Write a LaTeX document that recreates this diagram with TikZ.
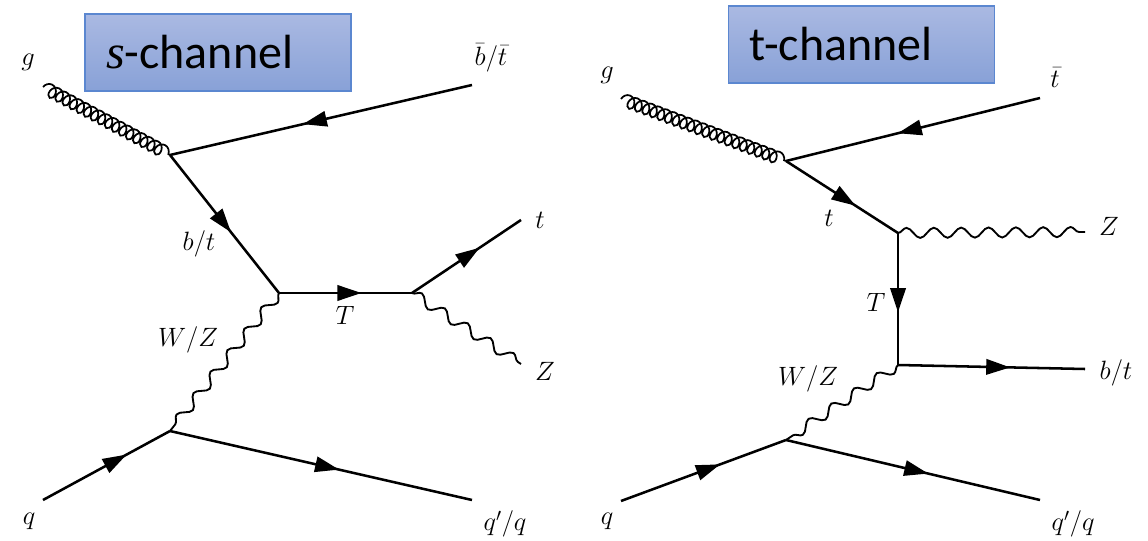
\documentclass[tikz,border=0pt]{standalone}
\usepackage{amsmath}
\usepackage{fontspec}
\setsansfont{Carlito}
\newfontfamily\channelsfont{Liberation Serif}
\usepackage{xcolor}
\usetikzlibrary{arrows.meta, decorations.markings, decorations.pathmorphing, positioning}
\definecolor{cBoxTop}{RGB}{170,185,226}
\definecolor{cBoxBottom}{RGB}{136,161,215}
\definecolor{cBoxLine}{RGB}{91,135,208}
\tikzset{
	fermion/.style={line width=1.9pt, postaction={decorate}, decoration={markings, mark=at position #1 with {\arrow{Triangle[length=18pt,width=11.5pt]}}}},
	fermion/.default=0.56,
	boson/.style={line width=1.4pt, decorate, decoration={snake, amplitude=3.8pt, segment length=20.5pt}},
	gluon/.style={line width=1.3pt, decorate, decoration={coil, aspect=0.8, amplitude=4.8pt, segment length=6pt}},
	channelbox/.style={draw=cBoxLine, line width=0.8pt, top color=cBoxTop, bottom color=cBoxBottom, minimum width=199.5pt, minimum height=57.75pt, inner xsep=15.5pt, inner ysep=0pt, text width=168pt, align=left, font=\sffamily\fontsize{36}{40}\selectfont},
	legname/.style={inner sep=0pt, font=\LARGE, scale=1.15}
}
\begin{document}
\begin{tikzpicture}[x=0.75pt, y=-0.75pt]
	\useasboundingbox (0,0) rectangle (1148,541);
	\node[channelbox] (sbox) at (218,52.5) {{\channelsfont\itshape s}-channel};
	\node[channelbox] (tbox) at (861.5,44.5) {t-channel};
	% end points and vertices
	\foreach \n/\x/\y in {sg/43/87, sa/170/155, sbt/472/85, sb/279/293, sc/412/293, st/521/220, sz/521/364, sd/170/431, sq/43/500, sqq/472/500, tg/621/99, ta/786/161, ttb/1040/98, tb/898/233, tz/1085/232, tc/898/365, tbt/1085/369, td/786/440, tq/621/501, tqq/1040/500} {
		\coordinate (\n) at (\x,\y);
	}
	% s-channel
	\draw[gluon] (sg) -- (sa);
	\draw[fermion] (sbt) -- (sa);
	\draw[fermion] (sa) -- (sb);
	\draw[fermion=0.62] (sb) -- (sc);
	\draw[fermion=0.62] (sc) -- (st);
	\draw[boson] (sc) -- (sz);
	\draw[boson] (sb) -- (sd);
	\draw[fermion=0.66] (sq) -- (sd);
	\draw[fermion] (sd) -- (sqq);
	% t-channel
	\draw[gluon] (tg) -- (ta);
	\draw[fermion] (ttb) -- (ta);
	\draw[fermion=0.62] (ta) -- (tb);
	\draw[boson] (tb) -- (tz);
	\draw[fermion=0.6] (tb) -- (tc);
	\draw[fermion=0.6] (tc) -- (tbt);
	\draw[boson] (tc) -- (td);
	\draw[fermion=0.6] (tq) -- (td);
	\draw[fermion] (td) -- (tqq);
	% labels
	\foreach \n/\x/\y/\l in {lsg/28/62/{g}, lsbt/491/58/{\bar{b}/\bar{t}}, lsb/199/244/{b/t}, lst/540/220/{t}, lsT/345/315/{T}, lsz/545/371/{Z}, lsw/188/340/{W/Z}, lsq/29/521/{q}, lsqq/505/524/{q'/q}, ltg/607/75/{g}, lttb/1055/78/{\bar{t}}, ltt/829/218/{t}, ltz/1109/226/{Z}, ltT/876/302/{T}, ltbt/1116/373/{b/t}, ltw/808/379/{W/Z}, ltq/607/521/{q}, ltqq/1073/524/{q'/q}} {
		\node[legname] (\n) at (\x,\y) {$\l$};
	}
\end{tikzpicture}
\end{document}
